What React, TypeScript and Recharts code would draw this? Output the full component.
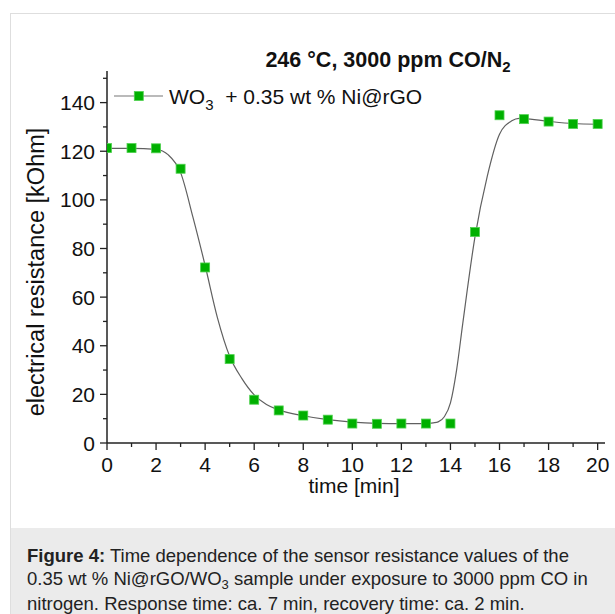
import React from 'react';
import { ComposedChart, Line, Scatter, XAxis, YAxis } from 'recharts';

// measured points (time in min, resistance in kOhm)
const times = [0, 1, 2, 3, 4, 5, 6, 7, 8, 9, 10, 11, 12, 13, 14, 15, 16, 17, 18, 19, 20];
const resistance = [121.3, 121.3, 121.2, 112.8, 72.2, 34.5, 17.8, 13.4, 11.3, 9.6, 8.0, 7.9, 8.0, 8.0, 8.0, 86.8, 134.8, 133.2, 132.2, 131.2, 131.2];

// fitted curve
const curveTime = [0, 1, 2, 2.5, 3, 3.5, 4, 4.5, 5, 5.5, 6, 6.5, 7, 8, 9, 10, 11, 12, 13, 13.3, 13.5, 13.75, 14, 14.25, 14.5, 15, 15.5, 16, 16.5, 16.8, 17, 18, 19, 20];
const curveRes = [121.2, 121.2, 120.8, 118.5, 111.2, 93, 73, 51.6, 35.7, 26.5, 19.8, 15.8, 13.6, 11.2, 9.6, 8.6, 8.1, 8.0, 8.0, 8.3, 8.7, 10.8, 16.5, 30, 49, 84.8, 109.7, 127, 132.5, 133.5, 133.4, 132.3, 131.4, 131.1];

const xTicks = [0, 1, 2, 3, 4, 5, 6, 7, 8, 9, 10, 11, 12, 13, 14, 15, 16, 17, 18, 19, 20];
const yTicks = [0, 10, 20, 30, 40, 50, 60, 70, 80, 90, 100, 110, 120, 130, 140, 150];

const pointData = times.map((t, i) => ({ t, r: resistance[i] }));
const curveData = curveTime.map((t, i) => ({ t, fit: curveRes[i] }));

const FONT = '"Liberation Sans", Arial, Helvetica, sans-serif';
const GREEN = '#00B000';

const XTick = (props: any) => {
  const { x, y, payload } = props;
  const major = payload.value % 2 === 0;
  return (
    <g>
      <line x1={x} x2={x} y1={y} y2={y + (major ? 7 : 4)} stroke="#222" strokeWidth={1.3} />
      {major && (
        <text x={x} y={y + 28.5} textAnchor="middle" fontSize={21} fontFamily={FONT} fill="#111">
          {payload.value}
        </text>
      )}
    </g>
  );
};

const YTick = (props: any) => {
  const { x, y, payload } = props;
  const major = payload.value % 20 === 0;
  return (
    <g>
      <line x1={x - (major ? 7 : 4)} x2={x} y1={y} y2={y} stroke="#222" strokeWidth={1.3} />
      {major && (
        <text x={x - 12} y={y + 7.5} textAnchor="end" fontSize={21} fontFamily={FONT} fill="#111">
          {payload.value}
        </text>
      )}
    </g>
  );
};

const SquareDot = (props: any) => {
  const { cx, cy } = props;
  if (cx == null || cy == null) return null;
  return <rect x={cx - 4.5} y={cy - 4.5} width={9} height={9} fill={GREEN} stroke="#4fd14f" strokeWidth={0.8} />;
};

export default function App() {
  return (
    <div style={{ position: 'absolute', left: 0, top: 0, width: 615, height: 614, overflow: 'hidden', background: '#fff', fontFamily: FONT }}>
      <div style={{ position: 'absolute', left: 10, top: 13, width: 620, height: 620, border: '1px solid #dedede', boxSizing: 'border-box' }} />
      <div style={{ position: 'absolute', left: 11, top: 528, width: 610, height: 90, background: '#ebebeb' }} />

      <div style={{ position: 'absolute', left: 0, top: 0 }}>
        <ComposedChart width={615} height={520} margin={{ top: 71, right: 10, left: 47, bottom: 37 }}>
          <XAxis
            type="number"
            dataKey="t"
            domain={[0, 20.3]}
            ticks={xTicks}
            interval={0}
            height={40}
            tickSize={0}
            tickMargin={0}
            tickLine={false}
            tick={<XTick />}
            axisLine={{ stroke: '#222', strokeWidth: 1.5 }}
            allowDataOverflow
          />
          <YAxis
            type="number"
            domain={[0, 153]}
            ticks={yTicks}
            interval={0}
            width={60}
            tickSize={0}
            tickMargin={0}
            tickLine={false}
            tick={<YTick />}
            axisLine={{ stroke: '#222', strokeWidth: 1.5 }}
            allowDataOverflow
          />
          <Line
            data={curveData}
            dataKey="fit"
            type="monotone"
            stroke="#606060"
            strokeWidth={1.2}
            dot={false}
            activeDot={false}
            isAnimationActive={false}
          />
          <Scatter data={pointData} dataKey="r" shape={<SquareDot />} isAnimationActive={false} />
        </ComposedChart>
      </div>

      <svg width={615} height={520} style={{ position: 'absolute', left: 0, top: 0, pointerEvents: 'none' }} fontFamily={FONT}>
        <text x={388} y={67} textAnchor="middle" fontSize={21.5} fontWeight="bold" fill="#111">
          246 °C, 3000 ppm CO/N<tspan fontSize={15} dy={5}>2</tspan>
        </text>

        <line x1={114} x2={163} y1={96} y2={96} stroke="#777" strokeWidth={1.2} />
        <rect x={134.3} y={91.5} width={9} height={9} fill={GREEN} stroke="#4fd14f" strokeWidth={0.8} />
        <text x={169} y={104} fontSize={21} fill="#111">
          WO<tspan fontSize={15} dy={6}>3</tspan>
          <tspan dy={-6}>{'\u00a0 + 0.35 wt % Ni@rGO'}</tspan>
        </text>

        <text transform="translate(44,272) rotate(-90)" textAnchor="middle" fontSize={23.5} fill="#111">
          electrical resistance [kOhm]
        </text>
        <text x={354} y={493} textAnchor="middle" fontSize={21} fill="#111">
          time [min]
        </text>
      </svg>

      <div style={{ position: 'absolute', left: 27, top: 544, width: 590, fontSize: 18.5, lineHeight: '23px', color: '#222', whiteSpace: 'nowrap' }}>
        <div><b>Figure 4:</b> Time dependence of the sensor resistance values of the</div>
        <div>
          0.35 wt % Ni@rGO/WO<span style={{ fontSize: 13, position: 'relative', top: 4 }}>3</span> sample under exposure to 3000 ppm CO in
        </div>
        <div>nitrogen. Response time: ca. 7 min, recovery time: ca. 2 min.</div>
      </div>
    </div>
  );
}
